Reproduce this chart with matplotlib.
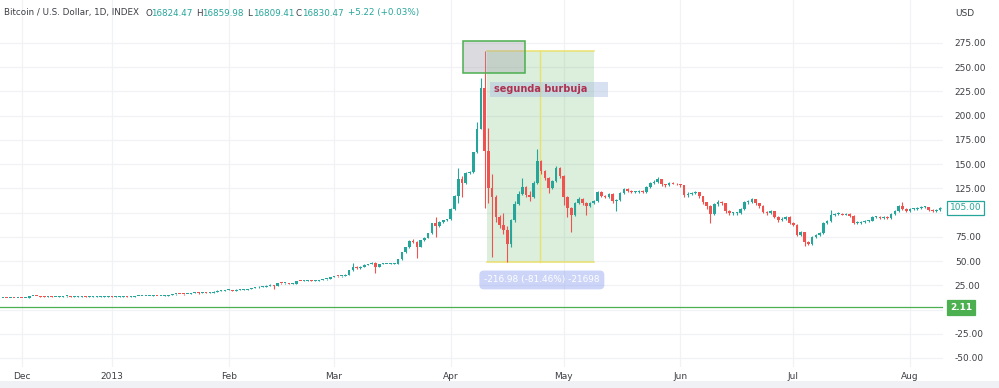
import numpy as np
import pandas as pd
import matplotlib
matplotlib.use("Agg")
import matplotlib.pyplot as plt
from matplotlib import transforms
from matplotlib.patches import Rectangle, FancyBboxPatch

# ---------------- data (daily candles, Dec 3 2012 -> Aug 9 2013) ----------------
start_date = "2012-12-03"
first_open = 11.6

close_dec = [11.7, 11.6, 11.8, 11.7, 11.9, 11.8, 12.0, 13.6, 13.7, 13.6, 13.4, 13.3, 13.4, 13.3, 13.3,
             13.4, 13.5, 13.5, 13.4, 13.4, 13.4, 13.4, 13.3, 13.4, 13.4, 13.4, 13.4, 13.4, 13.5]
high_dec = [11.9, 11.8, 11.9, 11.9, 12.0, 12.0, 12.1, 13.7, 13.9, 13.8, 13.7, 13.5, 13.5, 13.5, 13.4,
            13.5, 13.6, 13.7, 13.6, 13.5, 13.5, 13.5, 13.5, 13.5, 13.5, 13.5, 13.5, 13.5, 13.6]
low_dec = [11.5, 11.5, 11.5, 11.6, 11.6, 11.7, 11.7, 11.9, 13.5, 13.5, 13.3, 13.1, 13.2, 13.2, 13.2,
           13.2, 13.3, 13.4, 13.3, 13.3, 13.3, 13.3, 13.2, 13.2, 13.3, 13.3, 13.3, 13.3, 13.3]

close_jan = [13.3, 13.3, 13.4, 13.5, 13.4, 13.4, 13.6, 13.8, 13.8, 14.1, 14.2, 14.3, 14.2, 14.3, 14.4, 14.7,
             15.6, 16.2, 16.0, 15.7, 16.2, 16.9, 17.5, 16.8, 17.4, 17.3, 17.5, 18.5, 19.5, 19.6, 20.4]
high_jan = [13.6, 13.5, 13.5, 13.6, 13.6, 13.5, 13.7, 13.9, 14.0, 14.2, 14.4, 14.5, 14.4, 14.4, 14.6, 14.8,
            15.8, 16.4, 16.5, 16.1, 16.4, 17.0, 17.8, 17.8, 17.6, 17.6, 17.7, 18.7, 19.7, 19.9, 20.6]
low_jan = [13.1, 13.2, 13.2, 13.3, 13.3, 13.2, 13.3, 13.5, 13.6, 13.7, 14.0, 14.1, 14.0, 14.1, 14.2, 14.3,
           14.6, 15.4, 15.8, 15.4, 15.6, 16.1, 16.8, 16.3, 16.7, 17.0, 17.2, 17.4, 18.4, 19.2, 19.5]

close_feb = [20.5, 19.6, 20.5, 20.5, 20.6, 21.2, 22.2, 22.7, 23.6, 23.7, 24.5, 25.2, 24.2, 27.1,
             27.0, 27.3, 26.8, 26.8, 29.6, 29.4, 29.9, 29.9, 29.8, 29.8, 30.4, 31.0, 31.2, 33.4]
high_feb = [20.9, 20.6, 20.7, 20.8, 20.9, 21.4, 22.4, 22.9, 23.8, 24.0, 24.8, 25.9, 25.3, 27.3,
            27.5, 27.6, 27.4, 27.2, 29.8, 29.9, 30.3, 30.2, 30.1, 30.0, 30.6, 31.4, 31.5, 33.6]
low_feb = [20.0, 19.0, 19.5, 20.2, 20.3, 20.5, 21.1, 22.0, 22.6, 23.3, 23.6, 24.4, 21.5, 24.1,
           26.5, 26.8, 26.5, 26.4, 26.7, 28.9, 29.2, 29.6, 29.5, 29.5, 29.6, 30.3, 30.7, 31.0]

close_mar = [34.5, 34.3, 34.5, 36.1, 40.3, 44.1, 42.5, 44.2, 46.4, 46.8, 48.4, 44.0, 46.9, 47.0, 47.0, 47.4,
             47.4, 51.6, 59.1, 64.0, 70.8, 69.9, 64.3, 71.5, 74.0, 78.5, 89.0, 86.2, 90.5, 92.2, 93.0]
high_mar = [34.9, 34.8, 34.8, 36.4, 40.8, 48.0, 44.5, 44.6, 46.8, 47.2, 49.0, 48.5, 47.2, 47.5, 47.4, 47.8,
            47.9, 51.9, 59.5, 65.0, 71.5, 73.0, 70.5, 72.0, 74.5, 79.0, 89.5, 95.0, 91.0, 92.8, 93.8]
low_mar = [33.2, 33.8, 34.0, 34.3, 36.0, 40.1, 41.8, 42.3, 44.0, 46.0, 46.5, 37.5, 44.0, 46.5, 46.7, 46.8,
           47.0, 47.2, 51.4, 58.5, 63.8, 68.5, 53.0, 64.0, 71.0, 73.8, 78.3, 75.0, 85.5, 89.7, 91.5]

close_apr = [104, 117.6, 135, 131, 141, 142, 162, 186.5, 229, 164, 125, 116, 95, 87, 82,
             68, 92, 109, 119, 126, 118, 116, 131, 153, 143, 136, 125, 133, 146, 138]
high_apr = [105, 118, 146, 138, 142, 143, 163, 193, 239, 266.37, 187, 140, 118, 97, 100,
            86, 93, 112, 122, 136, 127, 122, 133, 166, 154, 144, 137, 134, 148, 147]
low_apr = [92.5, 103, 110, 116, 130, 140, 141, 161, 186, 105, 110, 54, 90, 84, 78,
           49.39, 65, 90, 108, 118, 116, 112, 115, 130, 140, 134, 120, 124, 132, 136]

close_may = [116, 105, 97, 110, 114, 110, 107, 110, 112, 121, 117, 116, 119, 112, 113, 120,
             124, 122, 121, 121, 122, 121, 126, 131, 132, 135, 129, 128, 131, 130, 129]
high_may = [139, 117, 106, 111, 116, 115, 111, 111, 113, 122, 122, 118, 120, 120, 114, 121,
            125, 125, 123, 122, 123, 123, 127, 132, 134, 137, 135, 130, 132, 132, 131]
low_may = [108, 95, 80, 96, 109, 108, 98, 106, 109, 111, 116, 115, 115, 110, 102, 112,
           119, 121, 120, 120, 120, 120, 120, 125, 130, 131, 127, 126, 127, 129, 128]

close_jun = [128, 118, 119, 120, 121, 117, 111, 107, 99, 109, 111, 110, 102, 100, 100,
             100, 104, 111, 111, 113.5, 110, 107, 101, 100, 102, 95, 92, 93, 95, 89]
high_jun = [130, 128, 121, 121, 122, 121, 117, 111, 108, 110, 113, 112, 110, 103, 101,
            101, 105, 112, 113, 115, 114, 110, 108, 102, 103, 102, 96, 95, 96, 96]
low_jun = [126, 116, 116, 118, 119, 115, 109, 104, 89, 98, 107, 108, 100, 98, 98,
           98, 99, 103, 109, 110, 108, 105, 100, 98, 99, 94, 90, 91, 92, 88]

close_jul = [87, 77, 80, 70, 68, 75, 77, 79, 89, 91, 97, 99, 99, 98, 99, 96,
             89, 89, 90, 91, 91.5, 95, 95, 94, 95, 94, 99, 101.5, 107, 104, 102]
high_jul = [90, 88, 81, 80, 71, 76, 78, 80, 90, 92, 103, 100, 101, 100, 100, 100,
            97, 91, 91, 92, 92.5, 96, 96, 96, 96, 96, 100, 102.5, 108, 111, 105]
low_jul = [86, 76, 76, 66, 67, 67, 74, 76, 78, 88, 90, 96, 98, 97, 97, 95,
           88, 88, 88, 89, 90, 91, 94, 93, 93, 93, 93, 98, 101, 103, 101]

close_aug = [104, 104, 105, 106, 106, 103, 102, 103, 105]
high_aug = [105, 105, 106, 107, 107, 106, 104, 104, 106]
low_aug = [101, 103, 103, 104, 105, 102, 101, 101, 102]

month_labels = ["Dec", "2013", "Feb", "Mar", "Apr", "May", "Jun", "Jul", "Aug"]
month_dates = ["2012-12-08", "2013-01-01", "2013-02-01", "2013-03-01", "2013-04-01",
               "2013-05-01", "2013-06-01", "2013-07-01", "2013-08-01"]
price_ticks = [-50, -25, 0, 25, 50, 75, 100, 125, 150, 175, 200, 225, 250, 275]
header_title = "Bitcoin / U.S. Dollar, 1D, INDEX"
header_keys = ["O", "H", "L", "C"]
header_vals = ["16824.47", "16859.98", "16809.41", "16830.47"]
header_change = "+5.22 (+0.03%)"
alert_level = 2.11
annotation_label = "segunda burbuja"

# ---------------- assemble ----------------
close = np.array(close_dec + close_jan + close_feb + close_mar + close_apr + close_may + close_jun + close_jul + close_aug, float)
high = np.array(high_dec + high_jan + high_feb + high_mar + high_apr + high_may + high_jun + high_jul + high_aug, float)
low = np.array(low_dec + low_jan + low_feb + low_mar + low_apr + low_may + low_jun + low_jul + low_aug, float)
opn = np.concatenate([[first_open], close[:-1]])

origin = pd.Timestamp("2013-01-01")
dates = pd.date_range(start_date, periods=len(close), freq="D")
d = np.asarray((dates - origin).days, float)
month_pos = [(pd.Timestamp(s) - origin).days for s in month_dates]

GREEN = "#26a69a"
RED = "#ef5350"
TXT = "#3d3f45"
FS = 6.5
HFS = 6.3

W, H = 999, 388
fig = plt.figure(figsize=(W / 100, H / 100), dpi=100)
fig.patch.set_facecolor("white")
PL, PR, PT, PB = 0, 943, 0, 367
ax = fig.add_axes([PL / W, (H - PB) / H, (PR - PL) / W, (PB - PT) / H])
px_day, x_jan1 = 3.764, 112.0
ax.set_xlim((PL - x_jan1) / px_day, (PR - x_jan1) / px_day)
px_unit, y_zero = 0.9692, 309.5
ax.set_ylim((y_zero - PB) / px_unit, (y_zero - PT) / px_unit)
ax.set_facecolor("white")
for s in ax.spines.values():
    s.set_visible(False)

# grid / ticks (labels at 0 and 100 are hidden behind the price-scale tags)
last = close[-1]
ax.set_yticks(price_ticks)
ax.set_yticklabels(["" if (abs(v - alert_level) < 12 or abs(v - last) < 12) else f"{v:.2f}"
                    for v in price_ticks])
ax.yaxis.tick_right()
ax.set_xticks(month_pos)
ax.set_xticklabels(month_labels)
ax.tick_params(axis="y", length=0, pad=8.5, labelsize=FS, labelcolor=TXT)
ax.tick_params(axis="x", length=0, pad=3.5, labelsize=FS, labelcolor=TXT)
for t in ax.get_yticklabels():
    t.set_horizontalalignment("left")
ax.grid(True, color="#f0f2f5", lw=0.9, zorder=0)
ax.set_axisbelow(True)

# measurement zone (peak high -> lowest low after it)
i_top = int(np.argmax(high))
top_p = high[i_top]
i_bot = i_top + int(np.argmin(low[i_top:]))
bot_p = low[i_bot]
zone_x0 = d[i_top] + 0.6
zone_x1 = d[i_bot] + 23.0
YEL = "#ebe06e"
ax.add_patch(Rectangle((zone_x0, bot_p), zone_x1 - zone_x0, top_p - bot_p,
                       facecolor="#4caf50", alpha=0.2, lw=0, zorder=1))
ax.plot([zone_x0, zone_x1], [top_p, top_p], color=YEL, lw=1.1, zorder=2)
ax.plot([zone_x0, zone_x1], [bot_p, bot_p], color=YEL, lw=1.1, zorder=2)
mid = (zone_x0 + zone_x1) / 2
ax.plot([mid, mid], [bot_p, top_p], color=YEL, lw=1.0, zorder=2)

# alert line
ax.axhline(alert_level, color="#4caf50", lw=0.9, zorder=2)

# candles
up = close >= opn
cols = np.where(up, GREEN, RED)
ax.vlines(d, low, high, colors=cols, lw=0.8, zorder=3)
ax.bar(d, np.maximum(np.abs(close - opn), 1.0), bottom=np.minimum(opn, close), width=0.7,
       color=cols, linewidth=0, zorder=4)

# gray box around the peak
ax.add_patch(Rectangle((d[i_top] - 5.7, top_p - 22.4), 16.5, 33.0,
                       facecolor="#9a9aa6", alpha=0.35, edgecolor="none", zorder=5))
ax.add_patch(Rectangle((d[i_top] - 5.7, top_p - 22.4), 16.5, 33.0,
                       facecolor="none", edgecolor="#4caf50", lw=1.1, zorder=6))

# label "segunda burbuja"
ax.add_patch(Rectangle((d[i_top] + 1.4, 219.3), 31.4, 15.4,
                       facecolor="#a9bde0", alpha=0.45, lw=0, zorder=5))
ax.text(d[i_top] + 2.4, 227.2, annotation_label, color="#b0304f", fontsize=7.0,
        fontweight="bold", va="center", ha="left", zorder=7)

# measurement label
diff = bot_p - top_p
meas_text = f"{diff:.2f} ({diff / top_p * 100:.2f}%) {round(diff * 100)}"
ax.add_patch(FancyBboxPatch((d[i_top] - 1.4, 20.8), 33.2, 19.4,
                            boxstyle="round,pad=0,rounding_size=1.2", mutation_aspect=3.9,
                            facecolor="#8fa2f0", alpha=0.45, lw=0, zorder=5))
ax.text(d[i_top] + 15.2, 30.5, meas_text, color="white", fontsize=6.4, ha="center",
        va="center", zorder=7)

# price line + labels on the price scale
ax.plot([d[-1], ax.get_xlim()[1]], [last, last], color=GREEN, lw=0.8, ls=(0, (1, 1.5)), zorder=3)
btr = transforms.blended_transform_factory(fig.transFigure, ax.transData)
fig.text(950 / W, last, f"{last:.2f}", transform=btr, color=GREEN, fontsize=FS, va="center",
         ha="left", zorder=10,
         bbox=dict(boxstyle="square,pad=0.28", facecolor="white", edgecolor=GREEN, lw=0.9))
fig.text(950 / W, alert_level, f"{alert_level:.2f}", transform=btr, color="white", fontsize=FS,
         fontweight="bold", va="center", ha="left", zorder=10,
         bbox=dict(boxstyle="square,pad=0.32", facecolor="#4caf50", edgecolor="#4caf50", lw=0.9))

# header
ypx = 1 - 13 / H
fig.text(4 / W, ypx, header_title, color=TXT, fontsize=HFS, va="center", ha="left")
kx = [145, 196, 247, 296]
for k, v, x in zip(header_keys, header_vals, kx):
    fig.text(x / W, ypx, k, color=TXT, fontsize=HFS, va="center", ha="left")
    fig.text((x + 6) / W, ypx, v, color=GREEN, fontsize=HFS, va="center", ha="left")
fig.text(348 / W, ypx, header_change, color=GREEN, fontsize=HFS, va="center", ha="left")
fig.text(955 / W, ypx, "USD", color=TXT, fontsize=FS, va="center", ha="left")

# bottom band
fig.patches.append(Rectangle((0, 0), 1, 7 / H, transform=fig.transFigure,
                             facecolor="#f0f1f4", edgecolor="none", zorder=0))

fig.savefig("out.png", dpi=100)
